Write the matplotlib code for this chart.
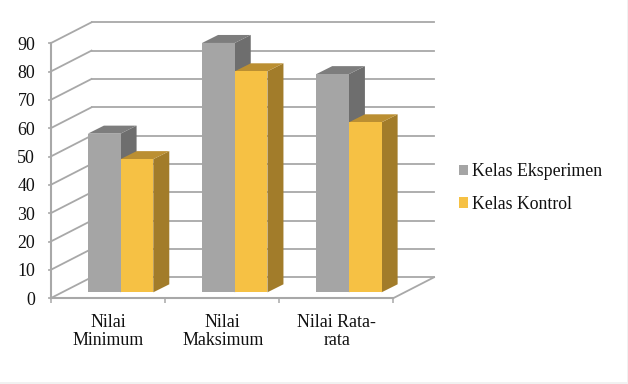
import numpy as np
import matplotlib
matplotlib.use('Agg')
import matplotlib.pyplot as plt
from matplotlib.patches import Polygon, Patch, Rectangle

categories = ['Nilai\nMinimum', 'Nilai\nMaksimum', 'Nilai Rata-\nrata']
eksperimen = [56, 88, 77]
kontrol = [47, 78, 60]
y_ticks = [0, 10, 20, 30, 40, 50, 60, 70, 80, 90]

plt.rcParams['font.family'] = ['Liberation Serif', 'DejaVu Serif']

W, H = 628, 384
fig = plt.figure(figsize=(W / 100, H / 100), dpi=100)
ax = fig.add_axes([50.5 / W, (H - 298.3) / H, 342.5 / W, 255 / H])
ax.set_xlim(0, 3)
ax.set_ylim(0, 90)
ax.patch.set_visible(False)

GRID = '#a8a8a8'
px_x = 3 / 342.5   # one pixel in x data units
px_y = 90 / 255    # one pixel in y data units

# kedalaman dinding belakang
back_dx, back_dy = 41 * px_x, 21 * px_y
# kedalaman batang dan posisi muka depan
bar_dx, bar_dy = 16 * px_x, 8 * px_y
off_x, off_y = 13 * px_x, 6 * px_y
bar_w = 32.7 * px_x


def box(x, h, front, side, top):
    base = off_y
    ax.add_patch(Polygon([(x + bar_w, base), (x + bar_w + bar_dx, base + bar_dy),
                          (x + bar_w + bar_dx, h + base + bar_dy), (x + bar_w, h + base)],
                         fc=side, ec='none', clip_on=False, zorder=3))
    ax.add_patch(Polygon([(x, h + base), (x + bar_w, h + base),
                          (x + bar_w + bar_dx, h + base + bar_dy), (x + bar_dx, h + base + bar_dy)],
                         fc=top, ec='none', clip_on=False, zorder=3))
    ax.bar(x, h, bar_w, bottom=base, align='edge', color=front, clip_on=False, zorder=3)


# garis kisi: diagonal kiri + dinding belakang
for v in y_ticks:
    ax.plot([0, back_dx], [v, v + back_dy], color=GRID, lw=1.3, clip_on=False, zorder=1)
    ax.plot([back_dx, 3 + back_dx], [v + back_dy, v + back_dy], color=GRID, lw=1.3,
            clip_on=False, zorder=1)
ax.plot([3, 3 + back_dx], [0, back_dy], color=GRID, lw=1.3, clip_on=False, zorder=1)

# batang
for i in range(len(categories)):
    cx = i + 0.5 + off_x
    box(cx - bar_w, eksperimen[i], '#a5a5a5', '#6e6e6e', '#7d7d7d')
    box(cx, kontrol[i], '#f6c144', '#a27c2a', '#bb8f32')

# sumbu
for s in ['top', 'right']:
    ax.spines[s].set_visible(False)
for s in ['left', 'bottom']:
    ax.spines[s].set_color(GRID)
    ax.spines[s].set_linewidth(1.5)
ax.set_yticks(y_ticks)
ax.set_xticks([0, 1, 2, 3])
ax.set_xticklabels([])
ax.set_xticks([0.5 + px_x, 1.5 + px_x, 2.5 + px_x], minor=True)
ax.set_xticklabels(categories, minor=True, fontsize=12.9, linespacing=1.12, color='#111111')
ax.tick_params(axis='x', which='major', length=3.5, width=1.1, color=GRID)
ax.tick_params(axis='x', which='minor', length=0, pad=11)
ax.tick_params(axis='y', length=2, width=1.1, color=GRID, labelsize=12.9, pad=9,
               labelcolor='#111111')

handles = [Patch(fc='#a5a5a5', ec='none', label='Kelas Eksperimen'),
           Patch(fc='#f6c144', ec='none', label='Kelas Kontrol')]
fig.legend(handles=handles, loc='upper left', bbox_to_anchor=(453.5 / W, 1 - 158 / H),
           frameon=False, fontsize=12.8, handlelength=0.52, handleheight=0.52,
           handletextpad=0.2, labelspacing=0.88, borderpad=0.3, borderaxespad=0,
           labelcolor='#111111')

# bingkai tipis di tepi gambar
fig.add_artist(Rectangle((0, 0), 1, 2.5 / H, transform=fig.transFigure, fc='#f1f1f1', ec='none'))
fig.add_artist(Rectangle((1 - 1.5 / W, 0), 1.5 / W, 1, transform=fig.transFigure, fc='#f1f1f1', ec='none'))

fig.savefig('out.png', dpi=100)
